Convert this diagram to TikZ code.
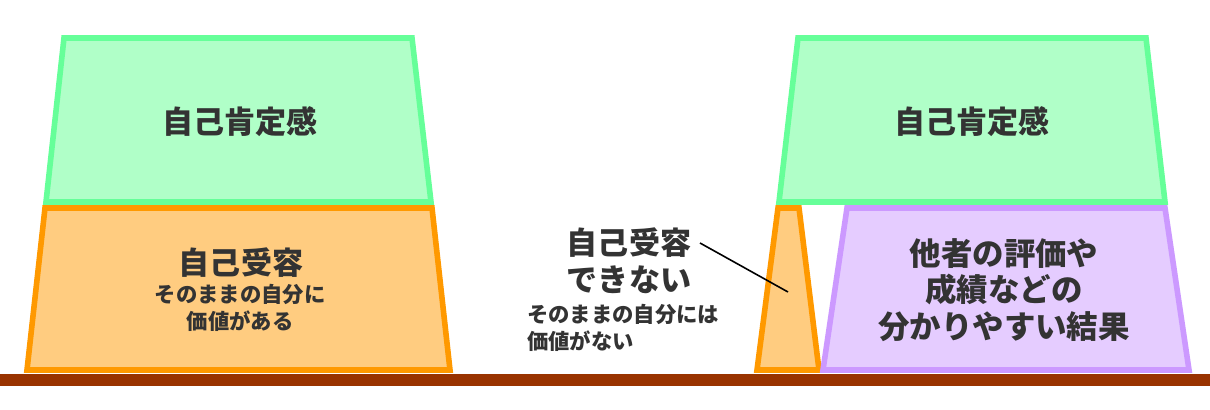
\documentclass[tikz,border=0pt]{standalone}
\usepackage{fontspec}
\setmainfont{Noto Sans CJK JP}
\definecolor{gfill}{HTML}{B0FFC8}
\definecolor{gline}{HTML}{66FF99}
\definecolor{ofill}{HTML}{FFCC80}
\definecolor{oline}{HTML}{FF9900}
\definecolor{pfill}{HTML}{E5CCFF}
\definecolor{pline}{HTML}{CC99FF}
\definecolor{ground}{HTML}{993300}
\definecolor{txt}{HTML}{333333}
\tikzset{
  greenbox/.style={fill=gfill,draw=gline,line width=4.2pt},
  orangebox/.style={fill=ofill,draw=oline,line width=4.2pt},
  purplebox/.style={fill=pfill,draw=pline,line width=4.2pt},
  big/.style={text=txt,font=\bfseries\fontsize{23.3pt}{28pt}\selectfont,align=center,inner sep=0pt},
  small/.style={text=txt,font=\bfseries\fontsize{16pt}{18pt}\selectfont,align=center,inner sep=0pt},
}
\begin{document}
\begin{tikzpicture}[x=0.75pt,y=-0.75pt]
\useasboundingbox (0,0) rectangle (1210,410);
\fill[white] (0,0) rectangle (1210,410);
% left stack
\draw[greenbox] (64,38) -- (412,38) -- (431,202) -- (46,202) -- cycle;
\draw[orangebox] (45,208) -- (432,208) -- (450,370) -- (27,370) -- cycle;
% right stack
\draw[greenbox] (798,38) -- (1146,38) -- (1165,202) -- (779,202) -- cycle;
\draw[orangebox] (778,208) -- (799,208) -- (819,370) -- (757,370) -- cycle;
\draw[purplebox] (847,208) -- (1165,208) -- (1189,370) -- (823,370) -- cycle;
% ground
\fill[ground] (0,374) rectangle (1210,386);
% texts
\node[big] (gl) at (240,122) {自己肯定感};
\node[big] (ol) at (241,263) {自己受容};
\node[small] (ols) at (240,308) {そのままの自分に\\[2pt]価値がある};
\node[big] (gr) at (972,122) {自己肯定感};
\node[big,font=\bfseries\fontsize{23.6pt}{27.5pt}\selectfont] (pr) at (1004,290) {他者の評価や\\成績などの\\分かりやすい結果};
\node[big,font=\bfseries\fontsize{23.3pt}{28pt}\selectfont] (mid) at (629,261) {自己受容\\できない};
\node[small,align=left,anchor=west] (mids) at (527,328) {そのままの自分には\\[2pt]価値がない};
\coordinate (tip) at (788,292);
\coordinate (lstart) at (700,243);
\draw[black,line width=1.2pt] (lstart) -- (tip);
\end{tikzpicture}
\end{document}
